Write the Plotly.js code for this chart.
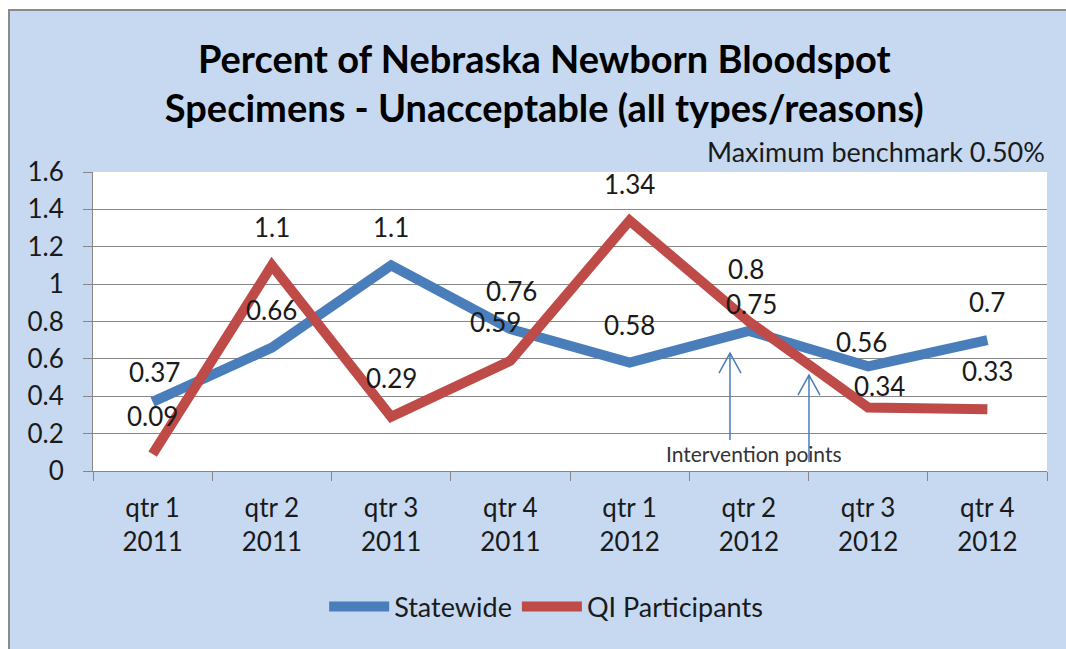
<!DOCTYPE html>
<html>
<head>
<meta charset="utf-8">
<script src="https://cdn.plot.ly/plotly-3.0.1.min.js"></script>
<style>
  html, body { margin: 0; padding: 0; background: #ffffff; overflow: hidden; width: 1066px; height: 649px; }
  #frame { position: absolute; left: 8px; top: 9px; width: 1058px; height: 640px;
           border-left: 2px solid #8a8a8a; border-top: 2px solid #8a8a8a; background: #c6d9f1; }
  #chart { width: 1058px; height: 640px; }
</style>
</head>
<body>
<div id="frame"><div id="chart"></div></div>
<script>
// ---- data ----
const categories = ["qtr 1<br>2011", "qtr 2<br>2011", "qtr 3<br>2011", "qtr 4<br>2011",
                    "qtr 1<br>2012", "qtr 2<br>2012", "qtr 3<br>2012", "qtr 4<br>2012"];
const statewide = [0.37, 0.66, 1.1, 0.76, 0.58, 0.75, 0.56, 0.7];
const qiParticipants = [0.09, 1.1, 0.29, 0.59, 1.34, 0.8, 0.34, 0.33];
const seriesNames = ["Statewide", "QI Participants"];
const yTickValues = [0, 0.2, 0.4, 0.6, 0.8, 1, 1.2, 1.4, 1.6];
const titleText = "Percent of Nebraska Newborn Bloodspot<br>Specimens - Unacceptable (all types/reasons)";
const benchmarkText = "Maximum benchmark 0.50%";
const interventionText = "Intervention points";

// ---- label placement (pixel offsets, style only) ----
const stateLabelShift = [[2, 30], [0, 38], [0, 38], [1, 38], [0, 38], [3, 27], [-7, 24], [0, 38]];
const qiLabelShift    = [[0, 38], [0, 38], [0, 39], [-15, 39], [0, 37], [-3, 53], [11, 21], [0, 38]];

const FONT = "Lato, 'Open Sans', sans-serif";
const BLUE = "#4a7ebb";
const RED = "#be4b48";

const traces = [
  { x: categories, y: statewide, name: seriesNames[0], type: "scatter", mode: "lines",
    line: { color: BLUE, width: 10 }, hoverinfo: "x+y" },
  { x: categories, y: qiParticipants, name: seriesNames[1], type: "scatter", mode: "lines",
    line: { color: RED, width: 10 }, hoverinfo: "x+y" }
];

const annotations = [];
function addLabels(values, shifts) {
  values.forEach((v, i) => {
    annotations.push({
      x: categories[i], y: v, xref: "x", yref: "y", text: String(v), showarrow: false,
      xshift: shifts[i][0], yshift: shifts[i][1],
      font: { family: FONT, size: 26, color: "#1a1a1a" }
    });
  });
}
addLabels(statewide, stateLabelShift);
addLabels(qiParticipants, qiLabelShift);

// benchmark note
annotations.push({
  xref: "paper", yref: "paper", x: 1, y: 1, xanchor: "right", yanchor: "bottom", yshift: 2,
  text: benchmarkText, showarrow: false,
  font: { family: FONT, size: 27, color: "#1a1a1a" }
});
// intervention text
annotations.push({
  xref: "paper", yref: "y", x: 0.6929, y: 0.096, xanchor: "center", yanchor: "middle",
  text: interventionText, showarrow: false,
  font: { family: FONT, size: 21, color: "#333333" }
});

// intervention arrows (thin shaft + open V head), anchored in axis space, sized in pixels
const arrowPath = "M0,0 L0,-87 M-11,-20 L0,0 L11,-20";
const shapes = [[0.6677, 0.631], [0.7505, 0.513]].map(a => ({
  type: "path", xref: "paper", yref: "y", xsizemode: "pixel", ysizemode: "pixel",
  xanchor: a[0], yanchor: a[1], path: arrowPath,
  line: { color: BLUE, width: 1.5 }
}));

const layout = {
  width: 1058, height: 640,
  paper_bgcolor: "#c6d9f1", plot_bgcolor: "#ffffff",
  margin: { l: 83, r: 21, t: 161, b: 180 },
  font: { family: FONT, color: "#1a1a1a" },
  title: {
    text: titleText, x: 0.505, xref: "container", xanchor: "center",
    y: 0.903, yref: "container", yanchor: "middle",
    font: { family: FONT, size: 38, color: "#000000", weight: "bold" }
  },
  xaxis: {
    type: "category", tickson: "boundaries", ticks: "outside", ticklen: 9,
    tickcolor: "#878787", showline: true, linecolor: "#878787", linewidth: 1,
    showgrid: false, tickfont: { family: FONT, size: 26, color: "#1a1a1a" },
    ticklabelstandoff: 14, range: [-0.5, 7.5], fixedrange: true
  },
  yaxis: {
    range: [0, 1.6], tickvals: yTickValues, ticks: "outside", ticklen: 9,
    tickcolor: "#878787", showline: true, linecolor: "#878787", linewidth: 1,
    showgrid: true, gridcolor: "#878787", gridwidth: 1, zeroline: false,
    tickfont: { family: FONT, size: 26, color: "#1a1a1a" }, ticklabelstandoff: 14,
    fixedrange: true
  },
  showlegend: true,
  legend: {
    orientation: "h", x: 0.475, xanchor: "center", y: -0.455, yanchor: "middle",
    bgcolor: "rgba(0,0,0,0)", font: { family: FONT, size: 27, color: "#1a1a1a" },
    itemwidth: 60, traceorder: "normal"
  },
  annotations: annotations,
  shapes: shapes
};

Plotly.newPlot("chart", traces, layout, { displayModeBar: false, staticPlot: true });
</script>
</body>
</html>
